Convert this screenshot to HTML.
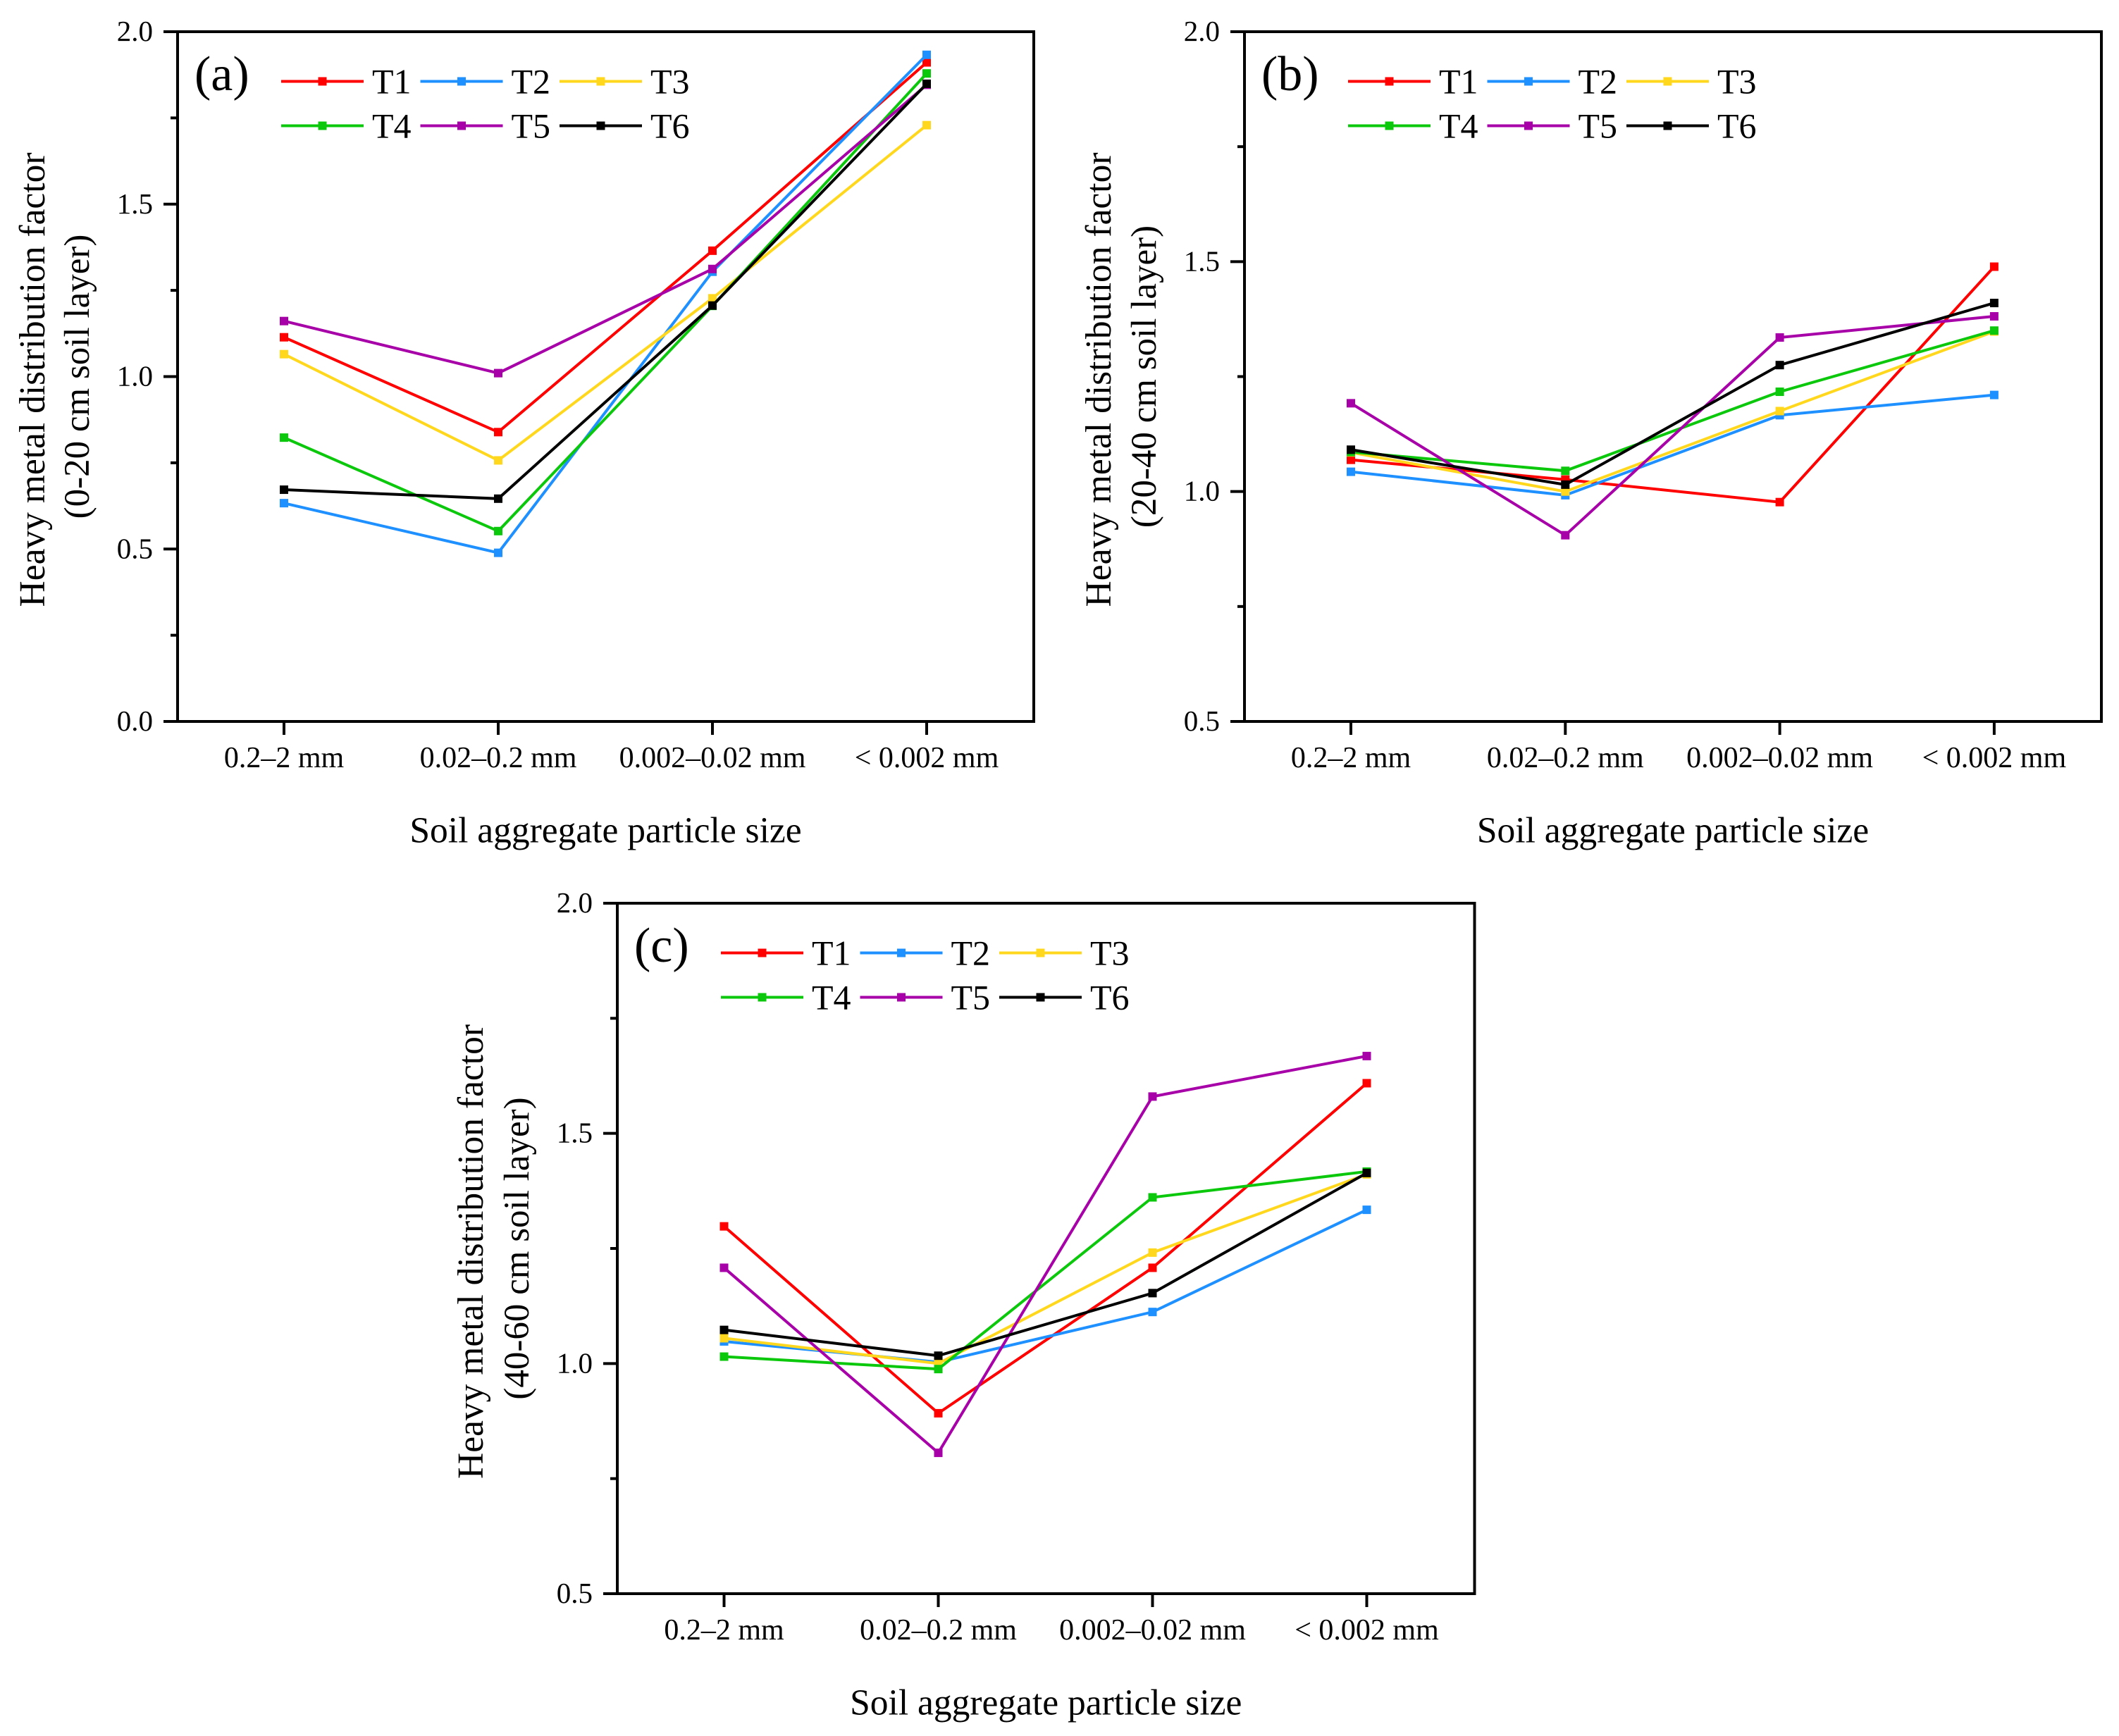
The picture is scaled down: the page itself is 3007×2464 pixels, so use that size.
<!DOCTYPE html>
<html lang="en">
<head>
<meta charset="utf-8">
<title>Heavy metal distribution factor by soil aggregate particle size</title>
<style>
html,body{margin:0;padding:0;background:#fff;width:3007px;height:2464px;overflow:hidden}
svg{display:block}
text{font-family:"Liberation Serif","Times New Roman",serif;fill:#000}
</style>
</head>
<body>
<svg id="chart" xmlns="http://www.w3.org/2000/svg" width="3007" height="2464" viewBox="0 0 3007 2464"></svg>
<script>
// Shared data
const categories = ["0.2–2 mm", "0.02–0.2 mm", "0.002–0.02 mm", "< 0.002 mm"];
const seriesNames = ["T1", "T2", "T3", "T4", "T5", "T6"];
const seriesColors = ["#ff0000", "#1e90ff", "#ffd81e", "#0cc80c", "#a800a8", "#000000"];

// Panel (a) values
const a_T1 = [1.114, 0.839, 1.365, 1.911];
const a_T2 = [0.633, 0.489, 1.304, 1.933];
const a_T3 = [1.065, 0.757, 1.227, 1.729];
const a_T4 = [0.823, 0.552, 1.205, 1.879];
const a_T5 = [1.161, 1.010, 1.312, 1.846];
const a_T6 = [0.672, 0.646, 1.206, 1.849];
const a_ticks = ["0.0", "0.5", "1.0", "1.5", "2.0"];

// Panel (b) values
const b_T1 = [1.069, 1.026, 0.977, 1.489];
const b_T2 = [1.043, 0.992, 1.166, 1.210];
const b_T3 = [1.085, 1.000, 1.175, 1.348];
const b_T4 = [1.086, 1.045, 1.217, 1.350];
const b_T5 = [1.192, 0.905, 1.335, 1.381];
const b_T6 = [1.091, 1.015, 1.275, 1.410];
const b_ticks = ["0.5", "1.0", "1.5", "2.0"];

// Panel (c) values
const c_T1 = [1.298, 0.892, 1.208, 1.609];
const c_T2 = [1.048, 1.003, 1.112, 1.334];
const c_T3 = [1.055, 1.000, 1.241, 1.411];
const c_T4 = [1.015, 0.988, 1.361, 1.417];
const c_T5 = [1.208, 0.806, 1.580, 1.668];
const c_T6 = [1.073, 1.017, 1.153, 1.414];
const c_ticks = ["0.5", "1.0", "1.5", "2.0"];

const NS = "http://www.w3.org/2000/svg";
const root = document.getElementById("chart");

function make(parent, tag, attrs, txt) {
  const el = document.createElementNS(NS, tag);
  for (const k in attrs) el.setAttribute(k, attrs[k]);
  if (txt !== undefined) el.textContent = txt;
  parent.appendChild(el);
  return el;
}

function drawPanel(p) {
  const g = make(root, "g", {});
  
  

  const L = p.left, R = p.right, T = p.top, B = p.bottom;
  const yMin = parseFloat(p.ticks[0]);
  const yMax = parseFloat(p.ticks[p.ticks.length - 1]);
  const yScale = v => B - (v - yMin) / (yMax - yMin) * (B - T);
  const xScale = i => p.x0 + i * p.dx;

  // frame
  const frame = make(g, "rect", {x: L, y: T, width: R - L, height: B - T, fill: "none", stroke: "#000", "stroke-width": 4});
  
  

  // y ticks
  p.ticks.forEach((lab, i) => {
    const v = parseFloat(lab);
    const y = yScale(v);
    const tick = make(g, "line", {x1: L - 20, x2: L, y1: y, y2: y, stroke: "#000", "stroke-width": 4});
    
    
    const t = make(g, "text", {x: L - 35, y: y + 13, "text-anchor": "end", "font-size": 41}, lab);
    
    
    if (i < p.ticks.length - 1) {
      const m = yScale((v + parseFloat(p.ticks[i + 1])) / 2);
      const minor = make(g, "line", {x1: L - 10, x2: L, y1: m, y2: m, stroke: "#000", "stroke-width": 4});
      
      
    }
  });

  // x ticks
  categories.forEach((c, i) => {
    const x = xScale(i);
    const tick = make(g, "line", {x1: x, x2: x, y1: B, y2: B + 19, stroke: "#000", "stroke-width": 4});
    
    
    const t = make(g, "text", {x: x, y: B + 65, "text-anchor": "middle", "font-size": 42}, c);
    
    
  });

  // axis titles
  const xTitle = make(g, "text", {x: (L + R) / 2, y: B + 171.5, "text-anchor": "middle", "font-size": 51.5}, "Soil aggregate particle size");
  
  

  const c1 = (T + B) / 2 + 4.5;
  const c2 = (T + B) / 2;
  const yt1 = make(g, "text", {transform: "translate(" + (L - p.title1) + "," + c1 + ") rotate(-90)", "text-anchor": "middle", "font-size": 51.5}, "Heavy metal distribution factor");
  
  
  const yt2 = make(g, "text", {transform: "translate(" + (L - 126) + "," + c2 + ") rotate(-90)", "text-anchor": "middle", "font-size": 51}, p.layer);
  
  

  // panel tag
  const tag = make(g, "text", {x: L + 24, y: T + 83, "font-size": 70}, "(" + p.id + ")");
  
  

  // series
  p.values.forEach((vals, s) => {
    const sg = make(g, "g", {});
    
    
    const pts = vals.map((v, i) => xScale(i) + "," + yScale(v)).join(" ");
    const line = make(sg, "polyline", {points: pts, fill: "none", stroke: seriesColors[s], "stroke-width": 4, "stroke-linejoin": "miter"});
    
    
    vals.forEach((v, i) => {
      const mk = make(sg, "rect", {x: xScale(i) - 6, y: yScale(v) - 6, width: 12, height: 12, fill: seriesColors[s]});
      
      
    });
  });

  // legend
  const lg = make(g, "g", {});
  
  
  seriesNames.forEach((n, s) => {
    const col = s % 3, row = Math.floor(s / 3);
    const x0 = L + 147 + col * 197.5;
    const y0 = T + 70.5 + row * 63;
    const ln = make(lg, "line", {x1: x0, x2: x0 + 117, y1: y0, y2: y0, stroke: seriesColors[s], "stroke-width": 4});
    
    
    const mk = make(lg, "rect", {x: x0 + 52.5, y: y0 - 6, width: 12, height: 12, fill: seriesColors[s]});
    
    
    const t = make(lg, "text", {x: x0 + 129, y: y0 + 17, "font-size": 50}, n);
    
    
  });
}

drawPanel({id: "a", left: 252, right: 1467, top: 45, bottom: 1024, x0: 403, dx: 304, title1: 189,
  ticks: a_ticks, layer: "(0-20 cm soil layer)", values: [a_T1, a_T2, a_T3, a_T4, a_T5, a_T6]});
drawPanel({id: "b", left: 1766, right: 2982, top: 45, bottom: 1024, x0: 1917, dx: 304.3, title1: 190,
  ticks: b_ticks, layer: "(20-40 cm soil layer)", values: [b_T1, b_T2, b_T3, b_T4, b_T5, b_T6]});
drawPanel({id: "c", left: 876, right: 2092.5, top: 1282, bottom: 2262, x0: 1027.5, dx: 304, title1: 191,
  ticks: c_ticks, layer: "(40-60 cm soil layer)", values: [c_T1, c_T2, c_T3, c_T4, c_T5, c_T6]});
</script>
</body>
</html>
